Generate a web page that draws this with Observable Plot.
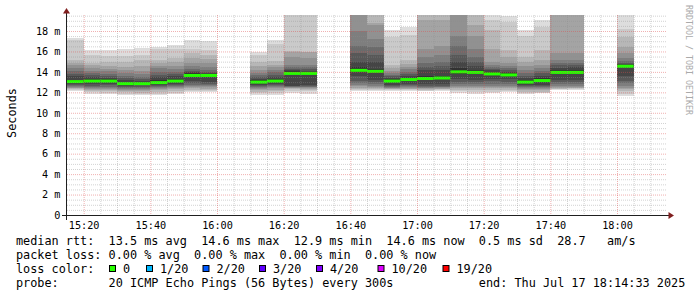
<!DOCTYPE html>
<html><head><meta charset="utf-8">
<script src="https://cdn.jsdelivr.net/npm/d3@7"></script>
<script src="https://cdn.jsdelivr.net/npm/@observablehq/plot@0.6"></script>
<style>body{margin:0;background:#fff}</style>
</head><body><div id="chart"></div>
<script>
// 5-minute steps with data (start times, Thu Jul 17 2025)
const stepStarts = ["15:15","15:20","15:25","15:30","15:35","15:40","15:45","15:50","15:55",
  "16:10","16:15","16:20","16:25",
  "16:40","16:45","16:50","16:55","17:00","17:05","17:10","17:15","17:20","17:25","17:30","17:35","17:40","17:45",
  "18:00"];
// median rtt (ms) per step
const medians = [13.1,13.15,13.15,12.9,12.9,13.0,13.15,13.7,13.7,
  13.05,13.15,13.9,13.9,
  14.2,14.1,13.15,13.3,13.4,13.45,14.05,14.0,13.85,13.75,13.05,13.2,14.0,14.0,
  14.6];
// 20 sorted ping rtts (ms) per step (smoke)
const pings = [
  [12.1,12.2,12.3,12.4,12.45,12.5,12.6,12.7,12.8,13.0,13.25,13.6,13.8,14.1,14.4,14.7,14.9,15.2,17.1,17.3],
  [11.85,12.0,12.1,12.2,12.3,12.4,12.5,12.6,12.8,13.0,13.3,13.5,13.7,13.9,14.1,14.4,14.7,14.9,15.7,16.15],
  [11.85,11.95,12.1,12.25,12.35,12.45,12.55,12.7,12.85,13.0,13.3,13.45,13.6,13.8,14.1,14.3,14.6,15.0,15.6,16.1],
  [11.75,11.85,12.0,12.1,12.2,12.3,12.4,12.5,12.65,12.8,13.05,13.2,13.4,13.6,13.9,14.2,14.5,15.0,15.6,16.2],
  [11.75,11.85,11.95,12.1,12.2,12.3,12.4,12.55,12.7,12.85,13.0,13.15,13.3,13.5,13.8,14.1,14.6,15.2,15.7,16.3],
  [11.7,11.85,12.0,12.2,12.3,12.4,12.5,12.6,12.7,12.9,13.2,13.5,13.7,14.0,14.4,14.6,14.9,15.2,16.2,16.45],
  [11.8,11.95,12.1,12.3,12.4,12.5,12.6,12.7,12.8,13.0,13.35,13.6,13.8,14.0,14.3,14.55,15.0,15.35,16.2,16.6],
  [12.05,12.15,12.25,12.4,12.5,12.6,12.75,12.9,13.1,13.55,13.85,13.95,14.05,14.3,14.6,14.9,15.4,15.8,16.2,17.1],
  [12.05,12.15,12.25,12.35,12.5,12.6,12.7,12.85,13.0,13.6,13.8,13.9,14.0,14.2,14.5,14.9,15.3,15.7,16.1,17.0],
  [11.75,11.9,12.05,12.2,12.3,12.4,12.5,12.6,12.7,12.9,13.2,13.35,13.5,13.7,13.9,14.2,14.6,15.0,15.7,15.95],
  [11.75,11.9,12.1,12.25,12.4,12.5,12.6,12.7,12.8,13.0,13.35,13.5,13.7,13.95,14.2,14.45,14.7,15.1,16.7,17.1],
  [11.9,12.15,12.3,12.4,12.45,12.5,12.55,12.6,12.65,13.8,14.05,14.15,14.3,14.5,14.7,15.5,15.95,16.0,20.5,21.0],
  [11.85,12.1,12.25,12.35,12.45,12.5,12.55,12.6,12.7,13.8,14.0,14.1,14.25,14.45,14.7,15.4,15.9,15.95,20.5,21.0],
  [12.15,12.2,12.3,12.45,12.6,12.75,12.9,13.1,13.55,14.0,14.45,15.0,15.85,16.5,18.0,19.8,20.5,21.0,21.5,22.0],
  [12.1,12.2,12.3,12.4,12.5,12.65,12.8,13.0,13.25,13.9,14.3,15.0,15.7,16.4,17.2,18.6,18.8,20.0,20.5,21.0],
  [12.15,12.2,12.3,12.35,12.4,12.45,12.5,12.6,12.7,13.0,13.3,13.45,13.55,13.7,13.9,14.1,14.4,14.7,17.4,18.1],
  [12.1,12.2,12.3,12.35,12.45,12.5,12.6,12.7,12.8,13.15,13.45,13.6,13.8,14.0,14.3,14.5,14.8,15.2,17.6,18.4],
  [12.1,12.15,12.25,12.3,12.4,12.45,12.5,12.6,12.8,13.25,13.55,14.2,14.5,14.9,15.5,16.2,19.1,20.0,20.5,21.0],
  [12.15,12.2,12.3,12.35,12.45,12.5,12.55,12.65,12.85,13.3,13.6,14.2,14.6,15.0,15.7,16.5,19.1,20.0,20.5,21.0],
  [11.9,12.1,12.25,12.4,12.5,12.6,12.8,13.05,13.3,13.75,14.35,15.0,15.7,16.5,17.5,19.8,20.1,20.4,20.7,21.0],
  [11.85,12.05,12.25,12.4,12.5,12.6,12.8,13.0,13.25,13.8,14.2,14.6,15.0,15.5,16.2,17.5,18.6,20.2,20.6,21.0],
  [11.9,12.05,12.2,12.4,12.5,12.6,12.85,13.1,13.35,13.75,14.0,14.15,14.3,14.5,14.7,15.0,16.2,18.1,19.1,20.5],
  [12.05,12.1,12.25,12.4,12.5,12.65,12.85,13.05,13.3,13.65,13.85,14.0,14.15,14.35,14.6,14.85,15.5,16.15,18.9,19.45],
  [11.8,11.9,12.05,12.2,12.3,12.4,12.5,12.6,12.7,12.9,13.25,13.4,13.6,13.9,14.2,14.55,15.0,15.5,17.5,18.1],
  [11.9,11.95,12.05,12.2,12.3,12.4,12.5,12.6,12.75,13.05,13.4,13.6,13.85,14.1,14.4,14.7,15.15,16.15,18.4,19.1],
  [12.25,12.3,12.35,12.45,12.55,12.65,12.8,13.0,13.25,13.85,14.2,14.4,14.7,14.9,15.2,15.85,20.0,20.4,20.7,21.0],
  [12.25,12.3,12.4,12.45,12.55,12.65,12.8,13.0,13.2,13.85,14.2,14.45,14.65,14.85,15.15,15.8,20.0,20.4,20.7,21.0],
  [11.65,11.85,12.1,12.3,12.45,12.6,12.9,13.1,13.55,14.5,14.7,14.8,14.9,15.1,15.4,15.85,16.4,17.45,18.2,20.5]
];
const yTicks = [0,2,4,6,8,10,12,14,16,18];
const xTickLabels = ["15:20","15:40","16:00","16:20","16:40","17:00","17:20","17:40","18:00"];
const lossLabels = ["0","1/20","2/20","3/20","4/20","10/20","19/20"];
const lossColors = ["#26ff00","#00b8ff","#0059ff","#5e00ff","#7e00ff","#dd00ff","#ff0000"];
const legendLines = [
  "median rtt:  13.5 ms avg  14.6 ms max  12.9 ms min  14.6 ms now  0.5 ms sd  28.7   am/s",
  "packet loss: 0.00 % avg  0.00 % max  0.00 % min  0.00 % now",
  "loss color:",
  "probe:       20 ICMP Echo Pings (56 Bytes) every 300s"
];
const endText = "end: Thu Jul 17 18:14:33 2025";

const STEP_MS = 5 * 60 * 1000;
const toDate = s => { const [h, m] = s.split(":").map(Number); return new Date(Date.UTC(2025, 6, 17, h, m)); };
const grayOf = k => { const g = Math.round(190 / 10 * (10 - k) + 50); return `rgb(${g},${g},${g})`; };

const smoke = [];
stepStarts.forEach((s, i) => {
  const p = pings[i];
  const x1 = toDate(s), x2 = new Date(+x1 + STEP_MS);
  for (let k = 1; k <= 10; k++) smoke.push({x1, x2, lo: p[k - 1], hi: p[20 - k], fill: grayOf(k)});
});
const medianRows = stepStarts.map((s, i) => ({x1: toDate(s), x2: new Date(+toDate(s) + STEP_MS), y: medians[i]}));

const domainStart = toDate("15:15"), domainEnd = toDate("18:15");
const majorX = xTickLabels.map(toDate);
const minorX = d3.range(1, 36).filter(i => i % 4 !== 1).map(i => new Date(+domainStart + i * STEP_MS));
const majorY = yTicks.filter(v => v > 0);
const minorY = d3.range(1, 40).map(i => i / 2).filter(v => v % 2 !== 0);

const gridStyle = {stroke: "#8f8f8f", strokeOpacity: 0.4, strokeDasharray: "1,1"};
const mgridStyle = {stroke: "#de4f4f", strokeOpacity: 0.45, strokeDasharray: "1,1"};

const plot = Plot.plot({
  width: 697, height: 297,
  marginLeft: 67, marginRight: 30, marginTop: 15, marginBottom: 82,
  style: {fontFamily: "'DejaVu Sans Mono', monospace", fontSize: "10.2px", background: "#fff", color: "#000", overflow: "visible"},
  color: {type: "identity"},
  x: {type: "utc", domain: [domainStart, domainEnd], ticks: majorX, tickFormat: d3.utcFormat("%H:%M"), tickSize: 0, tickPadding: 6, label: null},
  y: {domain: [0, 19.565], ticks: yTicks, tickFormat: d => d === 0 ? "0" : `${d} m`, tickSize: 0, tickPadding: 7, label: null},
  marks: [
    Plot.rect(smoke, {x1: "x1", x2: "x2", y1: "lo", y2: "hi", fill: "fill", clip: true, shapeRendering: "crispEdges"}),
    Plot.ruleY(medianRows, {x1: "x1", x2: "x2", y: "y", stroke: lossColors[0], strokeWidth: 3}),
    Plot.ruleY(minorY, gridStyle),
    Plot.ruleX(minorX, gridStyle),
    Plot.ruleY(majorY, mgridStyle),
    Plot.ruleX(majorX, mgridStyle)
  ]
});
document.getElementById("chart").appendChild(plot);

// rrdtool-style axes, arrows and texts
const svg = d3.select(plot);
const xr = plot.scale("x").range, yr = plot.scale("y").range;
const L = Math.min(...xr), R = Math.max(...xr), B = Math.max(...yr), T = Math.min(...yr);
const axisCol = "#1f1f1f", arrowCol = "#801f1f";
svg.append("line").attr("x1", L - 0.5).attr("x2", L - 0.5).attr("y1", B + 5).attr("y2", T - 2).attr("stroke", axisCol);
svg.append("line").attr("x1", L - 5).attr("x2", R + 2).attr("y1", B + 0.5).attr("y2", B + 0.5).attr("stroke", axisCol);
svg.append("path").attr("d", `M${L - 4},${T - 1.5}L${L + 3},${T - 1.5}L${L - 0.5},${T - 7}Z`).attr("fill", arrowCol);
svg.append("path").attr("d", `M${R + 1.5},${B - 3}L${R + 1.5},${B + 4}L${R + 7},${B + 0.5}Z`).attr("fill", arrowCol);

const mono = "'DejaVu Sans Mono', monospace";
svg.append("text").attr("transform", `translate(16,${(T + B) / 2 - 2}) rotate(-90)`)
  .attr("text-anchor", "middle").attr("font-family", mono).attr("font-size", "11.83px").attr("fill", "#000").text("Seconds");
svg.append("text").attr("transform", "translate(688.5,60) rotate(90)")
  .attr("text-anchor", "middle").attr("dominant-baseline", "central").attr("font-family", mono)
  .attr("font-size", "8.3px").attr("fill", "#aaaaaa").text("RRDTOOL / TOBI OETIKER");

const baselines = [245.3, 259.2, 273.1, 287.0];
const addText = (x, y, t) => svg.append("text").attr("x", x).attr("y", y).attr("text-anchor", "start")
  .attr("font-family", mono).attr("font-size", "11.83px").attr("fill", "#000").style("white-space", "pre").text(t);
legendLines.forEach((t, i) => addText(16, baselines[i], t));
addText(478.8, baselines[3], endText);
const boxX = [109, 146, 202.5, 259, 316, 377.5, 442.5];
lossLabels.forEach((lab, i) => {
  svg.append("rect").attr("x", boxX[i] + 0.5).attr("y", 265.5).attr("width", 6).attr("height", 6)
    .attr("fill", lossColors[i]).attr("stroke", "#000").attr("stroke-width", 1);
  addText(boxX[i] + 14, baselines[2], lab);
});
</script></body></html>
